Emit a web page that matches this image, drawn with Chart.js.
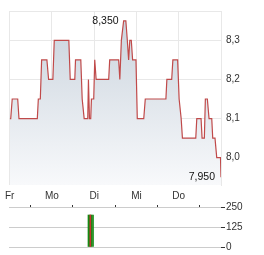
<!DOCTYPE html>
<html>
<head>
<meta charset="utf-8">
<script src="https://cdn.jsdelivr.net/npm/chart.js@4/dist/chart.umd.min.js"></script>
<style>
  body { margin: 0; background: #fff; }
  canvas { position: absolute; left: 0; }
  #price { top: 0; }
  #volume { top: 200px; }
</style>
</head>
<body>
<canvas id="price" width="264" height="200"></canvas>
<canvas id="volume" width="264" height="55"></canvas>
<script>
// day labels for the x axis (0 = Fr ... 4 = Do)
const dayLabels = ['Fr', 'Mo', 'Di', 'Mi', 'Do'];
const priceTicks = [8.0, 8.1, 8.2, 8.3];
const volumeTicks = [0, 125, 250];

// time in days since Friday open, price in EUR
const times = [0, 0.024, 0.059, 0.189, 0.219, 0.653, 0.677, 0.724, 0.755, 0.880,
    0.920, 1.021, 1.054, 1.399, 1.432, 1.540, 1.557, 1.682, 1.715, 1.762,
    1.847, 1.863, 1.887, 1.917, 1.934, 1.988, 2.012, 2.045, 2.342, 2.366,
    2.578, 2.606, 2.642, 2.696, 2.748, 2.783, 2.814, 2.842, 2.877, 2.908,
    2.988, 3.019, 3.172, 3.208, 3.696, 3.719, 3.833, 3.861, 3.974, 4.009,
    4.057, 4.087, 4.403, 4.427, 4.528, 4.552, 4.606, 4.630, 4.677, 4.717,
    4.781, 4.804, 4.858, 4.899, 4.988, 5.0];
const prices = [8.10, 8.10, 8.15, 8.15, 8.10, 8.10, 8.15, 8.15, 8.25, 8.25,
    8.20, 8.20, 8.30, 8.30, 8.20, 8.20, 8.25, 8.25, 8.15, 8.10,
    8.10, 8.20, 8.10, 8.10, 8.15, 8.15, 8.25, 8.20, 8.20, 8.25,
    8.25, 8.20, 8.30, 8.35, 8.35, 8.30, 8.25, 8.30, 8.30, 8.25,
    8.25, 8.10, 8.10, 8.15, 8.15, 8.20, 8.20, 8.25, 8.25, 8.15,
    8.10, 8.05, 8.05, 8.10, 8.10, 8.05, 8.05, 8.15, 8.15, 8.10,
    8.10, 8.05, 8.05, 8.00, 8.00, 7.95];

// volume bars (Tuesday morning)
const volTimesWide = [1.910];
const volWide = [200];
const volTimesThin = [1.981];
const volThin = [200];
const volTimesRed = [1.918];
const volRed = [200];

const textColor = '#333';
const fontSpec = { family: 'Liberation Sans, Arial, sans-serif', size: 10 };

function fmt(v) {
    return v.toFixed(3).replace('.', ',');
}

// Draw max / min labels and the plot frame
const extremesPlugin = {
    id: 'extremes',
    beforeDatasetsDraw(chart) {
        const { ctx, chartArea } = chart;
        ctx.save();
        ctx.strokeStyle = '#e8e8e8';
        ctx.lineWidth = 1;
        ctx.beginPath();
        ctx.moveTo(chartArea.left, chartArea.top + 0.5);
        ctx.lineTo(chartArea.right, chartArea.top + 0.5);
        ctx.stroke();
        ctx.restore();
    },
    afterDatasetsDraw(chart) {
        const { ctx } = chart;
        const xs = chart.scales.x;
        const ys = chart.scales.y;
        let maxI = 0, minI = 0;
        prices.forEach((p, i) => {
            if (p > prices[maxI]) maxI = i;
            if (p <= prices[minI]) minI = i;
        });
        ctx.save();
        ctx.font = '10.5px Liberation Sans, Arial, sans-serif';
        ctx.fillStyle = '#111';
        ctx.textAlign = 'right';
        ctx.textBaseline = 'middle';
        ctx.fillText(fmt(prices[maxI]), xs.getPixelForValue(times[maxI]) - 5, ys.getPixelForValue(prices[maxI]));
        ctx.fillText(fmt(prices[minI]), xs.getPixelForValue(times[minI]) - 6, ys.getPixelForValue(prices[minI]));
        ctx.restore();
    }
};

new Chart(document.getElementById('price'), {
    type: 'line',
    data: {
        datasets: [{
            data: times.map((t, i) => ({ x: t, y: prices[i] })),
            borderColor: '#c04a4a',
            borderWidth: 1.2,
            pointRadius: 0,
            tension: 0,
            fill: 'start',
            backgroundColor: (context) => {
                const area = context.chart.chartArea;
                if (!area) return '#dde3e9';
                const g = context.chart.ctx.createLinearGradient(0, area.top, 0, area.bottom);
                g.addColorStop(0, '#c8d2dc');
                g.addColorStop(1, '#f8f9fb');
                return g;
            }
        }]
    },
    options: {
        responsive: false,
        animation: false,
        devicePixelRatio: 1,
        layout: { padding: { left: 9, top: 7, right: 0, bottom: 0 } },
        plugins: { legend: { display: false }, tooltip: { enabled: false } },
        scales: {
            x: {
                type: 'linear',
                min: 0,
                max: 5,
                afterBuildTicks: (s) => { s.ticks = dayLabels.map((d, i) => ({ value: i })); },
                afterFit: (s) => { s.height = 15; },
                grid: { color: '#e8e8e8', drawTicks: false },
                border: { display: false },
                ticks: {
                    padding: 5,
                    color: textColor,
                    font: fontSpec,
                    maxRotation: 0,
                    callback: (v) => dayLabels[v]
                }
            },
            y: {
                position: 'right',
                min: 7.93,
                max: 8.375,
                afterBuildTicks: (s) => { s.ticks = priceTicks.map(v => ({ value: v })); },
                afterFit: (s) => { s.width = 43; },
                grid: { color: '#e8e8e8', drawTicks: false },
                border: { display: true, color: '#e8e8e8' },
                ticks: {
                    padding: 5,
                    color: textColor,
                    font: fontSpec,
                    callback: (v) => v.toFixed(1).replace('.', ',')
                }
            }
        }
    },
    plugins: [extremesPlugin]
});

new Chart(document.getElementById('volume'), {
    type: 'bar',
    data: {
        datasets: [
            {
                data: volTimesRed.map((t, i) => ({ x: t, y: volRed[i] })),
                backgroundColor: '#c83232',
                barThickness: 1,
                grouped: false,
                order: 0
            },
            {
                data: volTimesWide.map((t, i) => ({ x: t, y: volWide[i] })),
                backgroundColor: '#138a13',
                barThickness: 4,
                grouped: false,
                order: 1
            },
            {
                data: volTimesThin.map((t, i) => ({ x: t, y: volThin[i] })),
                backgroundColor: '#138a13',
                barThickness: 1,
                grouped: false,
                order: 1
            }
        ]
    },
    options: {
        responsive: false,
        animation: false,
        devicePixelRatio: 1,
        layout: { padding: { left: 9, top: 0, right: 0, bottom: 8 } },
        plugins: { legend: { display: false }, tooltip: { enabled: false } },
        scales: {
            x: {
                type: 'linear',
                position: 'top',
                min: 0,
                max: 5,
                offset: false,
                afterBuildTicks: (s) => { s.ticks = dayLabels.map((d, i) => ({ value: i })); },
                afterFit: (s) => { s.height = 7; },
                grid: { drawOnChartArea: false, tickLength: 2, tickColor: '#333' },
                border: { display: false },
                ticks: { display: false }
            },
            y: {
                position: 'right',
                min: 0,
                max: 250,
                afterBuildTicks: (s) => { s.ticks = volumeTicks.map(v => ({ value: v })); },
                afterFit: (s) => { s.width = 43; },
                grid: { color: '#cccccc', tickLength: 4, tickColor: '#333' },
                border: { display: false },
                ticks: { padding: 1, color: textColor, font: fontSpec }
            }
        }
    }
});
</script>
</body>
</html>
